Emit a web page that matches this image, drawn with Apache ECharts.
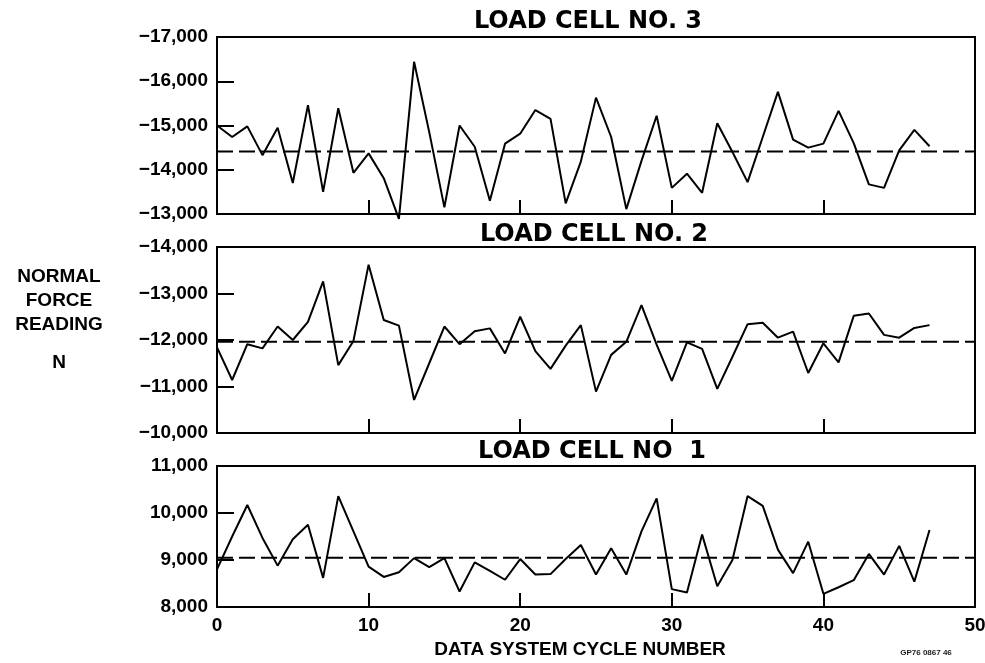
<!DOCTYPE html>
<html><head><meta charset="utf-8">
<script src="https://cdn.jsdelivr.net/npm/echarts@6/dist/echarts.min.js"></script>
<style>html,body{margin:0;padding:0;background:#fff}#c{width:985px;height:663px}</style>
</head><body><div id="c"></div>
<script>
// ---- data ----
const cycles = [0,1,2,3,4,5,6,7,8,9,10,11,12,13,14,15,16,17,18,19,20,21,22,23,24,25,26,27,28,29,30,31,32,33,34,35,36,37,38,39,40,41,42,43,44,45,46,47];
const cell3 = [-15000,-14740,-14980,-14330,-14950,-13700,-15460,-13500,-15390,-13930,-14370,-13810,-12890,-16440,-14850,-13150,-15000,-14520,-13300,-14590,-14815,-15350,-15150,-13240,-14185,-15630,-14740,-13110,-14200,-15220,-13590,-13910,-13480,-15050,-14400,-13720,-14740,-15760,-14680,-14500,-14590,-15330,-14600,-13670,-13590,-14440,-14900,-14530];
const cell2 = [-11840,-11140,-11910,-11820,-12290,-12000,-12390,-13260,-11460,-11980,-13620,-12430,-12310,-10710,-11500,-12290,-11910,-12190,-12250,-11710,-12500,-11760,-11380,-11880,-12320,-10890,-11680,-11960,-12750,-11900,-11120,-11950,-11810,-10950,-11640,-12340,-12370,-12050,-12180,-11290,-11930,-11520,-12520,-12570,-12110,-12050,-12260,-12320];
const cell1 = [8800,9500,10170,9470,8880,9440,9750,8620,10360,9610,8860,8640,8740,9040,8850,9040,8330,8950,8770,8580,9020,8690,8700,9020,9320,8690,9250,8690,9610,10310,8380,8310,9540,8440,9000,10360,10150,9220,8720,9390,8280,8420,8570,9130,8690,9300,8540,9640];
const means = [-14410, -11960, 9050];
const titles = ['LOAD CELL NO. 3', 'LOAD CELL NO. 2', 'LOAD CELL NO  1'];
const yRanges = [[-17000,-13000],[-14000,-10000],[8000,11000]];
const xTicks = [0,10,20,30,40,50];
const yTitleLines = ['NORMAL','FORCE','READING'];
const yUnit = 'N';
const xTitle = 'DATA SYSTEM CYCLE NUMBER';
const figId = 'GP76 0867 46';

// ---- chart ----
const FONT = '"Liberation Sans", Arial, sans-serif';
const grids = [
  {left:217, right:10, top:37, height:177},
  {left:217, right:10, top:247, height:186},
  {left:217, right:10, top:466, height:141}
].map(g => Object.assign(g, {show:true, borderColor:'#000', borderWidth:2, containLabel:false, outerBoundsMode:'none'}));

const fmt = v => (v < 0 ? '\u2212' : '') + Math.abs(v).toLocaleString('en-US');

const xAxes = grids.map((g, i) => ({
  type:'value', gridIndex:i, min:xTicks[0], max:xTicks[xTicks.length-1], interval:10,
  axisLine:{show:true, onZero:false, lineStyle:{color:'#000', width:2}},
  axisTick:{show:true, inside:true, length:14, lineStyle:{color:'#000', width:2}},
  splitLine:{show:false},
  axisLabel:{show:i===2, color:'#000', fontFamily:FONT, fontWeight:'bold', fontSize:19, margin:9}
}));
const yAxes = grids.map((g, i) => ({
  type:'value', gridIndex:i, min:yRanges[i][0], max:yRanges[i][1], interval:1000,
  inverse: i < 2,
  axisLine:{show:true, onZero:false, lineStyle:{color:'#000', width:2}},
  axisTick:{show:true, inside:true, length:17, lineStyle:{color:'#000', width:2}},
  splitLine:{show:false},
  axisLabel:{color:'#000', fontFamily:FONT, fontWeight:'bold', fontSize:19, margin:9, formatter:fmt}
}));

const dataSets = [cell3, cell2, cell1];
const series = [];
dataSets.forEach((d, i) => {
  series.push({
    type:'line', xAxisIndex:i, yAxisIndex:i, showSymbol:false, clip:false, silent:true,
    data: cycles.map((c, k) => [c, d[k]]),
    lineStyle:{color:'#000', width:2}
  });
  series.push({
    type:'line', xAxisIndex:i, yAxisIndex:i, showSymbol:false, silent:true,
    data: [[xTicks[0], means[i]], [xTicks[xTicks.length-1], means[i]]],
    lineStyle:{color:'#000', width:2, type:[16,6]}
  });
});

const titleY = [22, 235, 452];
const titleX = [588, 594, 592];
const graphic = [];
titles.forEach((t, i) => graphic.push({
  type:'text', x:titleX[i], y:titleY[i],
  style:{text:t, fill:'#000', font:'bold 24px "DejaVu Sans", sans-serif', textAlign:'center', textVerticalAlign:'middle'}
}));
const lineY = [277, 301, 325];
yTitleLines.forEach((t, i) => graphic.push({
  type:'text', x:59, y:lineY[i],
  style:{text:t, fill:'#000', font:'bold 19px ' + FONT, textAlign:'center', textVerticalAlign:'middle'}
}));
graphic.push({type:'text', x:59, y:363, style:{text:yUnit, fill:'#000', font:'bold 19px ' + FONT, textAlign:'center', textVerticalAlign:'middle'}});
graphic.push({type:'text', x:580, y:650, style:{text:xTitle, fill:'#000', font:'bold 19px ' + FONT, textAlign:'center', textVerticalAlign:'middle'}});
graphic.push({type:'text', x:926, y:653, style:{text:figId, fill:'#222', font:'bold 8px ' + FONT, textAlign:'center', textVerticalAlign:'middle'}});

const chart = echarts.init(document.getElementById('c'), null, {renderer:'canvas'});
chart.setOption({
  animation:false,
  backgroundColor:'#fff',
  grid:grids, xAxis:xAxes, yAxis:yAxes, series:series, graphic:graphic
});
</script></body></html>
